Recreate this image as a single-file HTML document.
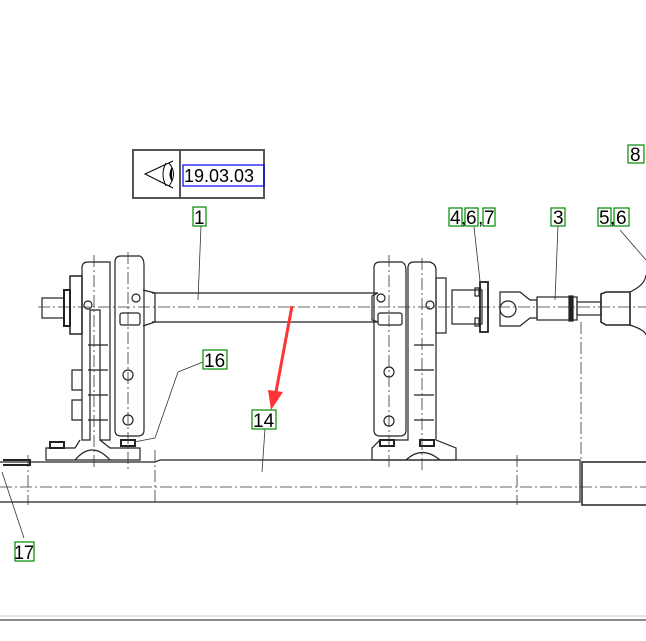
<!DOCTYPE html>
<html><head><meta charset="utf-8"><style>
html,body{margin:0;padding:0;background:#fff;width:646px;height:641px;overflow:hidden}
svg{display:block}
text{font-family:"Liberation Sans",sans-serif;fill:#000}
</style></head><body>
<svg width="646" height="641" viewBox="0 0 646 641" xmlns="http://www.w3.org/2000/svg">
<g fill="none" stroke="#444" stroke-width="1">
<rect x="133" y="150" width="131" height="48" stroke="#555" stroke-width="2"/>
<line x1="180" y1="150" x2="180" y2="198" stroke="#555" stroke-width="2"/>
<path d="M173 161 L145 174 L173 188" stroke="#000"/>
<path d="M166 163 Q160 174 166 186" stroke="#000"/>
<path d="M169 163 Q178 174 169 186" stroke="#000"/>
</g>
<path d="M172 167 Q167 174 172 182 Z" fill="#000"/>
<rect x="183" y="165" width="81" height="21" fill="none" stroke="#00f" stroke-width="1.2"/>
<text x="184" y="182" font-size="18">19.03.03</text>

<g fill="none" stroke="#222" stroke-width="1.2">
<line x1="152" y1="293" x2="378" y2="293"/>
<line x1="152" y1="322" x2="378" y2="322"/>
<path d="M143 290 L155 293 L155 322 L143 326"/>
<path d="M378 293 L372 296 L372 320 L378 322"/>
<rect x="42" y="298" width="22" height="20"/>
<rect x="64" y="290" width="6" height="36" stroke-width="2"/>
<rect x="70" y="276" width="12" height="58" stroke-width="1.5"/>
<path d="M82 268 Q82 262 88 262 L110 262 L110 440 L100 440 L100 310 L90 310 L90 440 L82 440 Z"/>
<path d="M115 262 Q115 256 121 256 L140 256 Q144 258 144 265 L144 430 Q144 436 138 436 L121 436 Q115 436 115 430 Z"/>
<rect x="120" y="313" width="20" height="12" rx="2"/>
<circle cx="128" cy="375" r="5"/><circle cx="128" cy="420" r="5"/>
<circle cx="88" cy="305" r="4"/><circle cx="136" cy="298" r="4"/>
<path d="M82 370 L72 370 L72 390 L82 390 M82 400 L72 400 L72 420 L82 420"/>
<path d="M80 440 L75 448 L46 448 L46 460 L140 460 L140 448 L110 448 L100 440"/>
<path d="M88 345 H108 M88 370 H108 M88 395 H108 M88 420 H108"/>
<path d="M75 460 Q92 440 110 460"/>
<rect x="50" y="442" width="14" height="6" stroke-width="2"/><rect x="121" y="440" width="14" height="6" stroke-width="2"/>
<path d="M374 268 Q374 262 380 262 L402 262 Q406 264 406 270 L406 430 Q406 436 400 436 L380 436 Q374 436 374 430 Z"/>
<rect x="378" y="313" width="24" height="12" rx="2"/>
<circle cx="389" cy="372" r="5"/><circle cx="389" cy="421" r="5"/>
<circle cx="381" cy="298" r="4"/><circle cx="430" cy="305" r="4"/>
<path d="M408 268 Q408 262 414 262 L430 262 Q436 264 436 270 L436 440 L456 448 L456 460 L372 460 L372 448 L380 440 L408 440 Z"/>
<path d="M414 345 H434 M414 370 H434 M414 395 H434 M414 420 H434"/>
<rect x="436" y="278" width="10" height="55"/>
<path d="M406 460 Q422 445 440 460"/>
<rect x="380" y="440" width="14" height="6" stroke-width="2"/><rect x="420" y="440" width="14" height="6" stroke-width="2"/>
<rect x="452" y="290" width="30" height="34"/>
<rect x="480" y="282" width="8" height="50" stroke-width="1.8"/>
<rect x="475" y="288" width="4" height="8"/><rect x="475" y="318" width="4" height="8"/>
<path d="M500 292 L520 292 L530 300 L537 300 L537 318 L530 318 L520 326 L500 326 Z"/>
<circle cx="508" cy="309" r="8"/>
<rect x="537" y="297" width="40" height="23"/>
<rect x="569" y="296" width="4" height="25" fill="#222"/>
<rect x="577" y="302" width="24" height="13"/>
<path d="M601 294 L606 292 L630 292 L630 325 L606 325 L601 322 Z" stroke-width="1.6"/>
<path d="M630 292 Q645 285 646 275 M630 325 Q645 330 646 335"/>
<path d="M0 462 L155 462 L160 460 L580 460 L580 502 L0 502"/>
<rect x="582" y="462" width="70" height="43" stroke-width="1.5"/>
<path d="M3 460 L30 460 L30 465 L3 465" stroke-width="2"/>
</g>
<g fill="none" stroke="#333" stroke-width="0.8" stroke-dasharray="12,3,2,3">
<line x1="38" y1="307" x2="646" y2="307"/>
<line x1="0" y1="487" x2="646" y2="487"/>
<line x1="94" y1="255" x2="94" y2="470"/>
<line x1="128" y1="252" x2="128" y2="470"/>
<line x1="389" y1="255" x2="389" y2="470"/>
<line x1="422" y1="258" x2="422" y2="472"/>
<line x1="581" y1="322" x2="581" y2="462"/>
<line x1="155" y1="450" x2="155" y2="505"/>
<line x1="517" y1="455" x2="517" y2="505"/>
<line x1="28" y1="455" x2="28" y2="505"/>
</g>
<g stroke="#333" stroke-width="0.8" fill="none">
<line x1="201" y1="226" x2="198" y2="300"/>
<line x1="203" y1="362" x2="178" y2="372"/><path d="M178 372 L155 438 L134 442"/>
<line x1="265" y1="429" x2="262" y2="472"/>
<line x1="2" y1="472" x2="24" y2="538"/>
<line x1="474" y1="227" x2="481" y2="290"/>
<line x1="558" y1="226" x2="555" y2="300"/>
<line x1="620" y1="230" x2="646" y2="260"/>
</g>
<line x1="292" y1="306" x2="276" y2="392" stroke="#f33" stroke-width="3"/>
<path d="M268 390 L283 392 L271 410 Z" fill="#f33"/>
<g font-size="19">
<rect x="193" y="207" width="13" height="19" fill="#fff" stroke="#080" stroke-width="1.2"/><text x="194" y="224">1</text>
<rect x="203" y="350" width="24" height="19" fill="#fff" stroke="#080" stroke-width="1.2"/><text x="204" y="367">16</text>
<rect x="252" y="410" width="24" height="19" fill="#fff" stroke="#080" stroke-width="1.2"/><text x="253" y="427">14</text>
<rect x="15" y="542" width="19" height="19" fill="#fff" stroke="#080" stroke-width="1.2"/><text x="14" y="559" textLength="20" lengthAdjust="spacingAndGlyphs">17</text>
<rect x="449" y="208" width="13" height="18" fill="#fff" stroke="#080" stroke-width="1.2"/><text x="450" y="224">4</text>
<text x="461" y="224">,</text>
<rect x="465" y="208" width="13" height="18" fill="#fff" stroke="#080" stroke-width="1.2"/><text x="466" y="224">6</text>
<text x="478" y="224">,</text>
<rect x="483" y="208" width="12" height="18" fill="#fff" stroke="#080" stroke-width="1.2"/><text x="484" y="224">7</text>
<rect x="551" y="208" width="14" height="18" fill="#fff" stroke="#080" stroke-width="1.2"/><text x="553" y="224">3</text>
<rect x="598" y="208" width="13" height="18" fill="#fff" stroke="#080" stroke-width="1.2"/><text x="599" y="224">5</text>
<text x="610" y="224">,</text>
<rect x="614" y="208" width="15" height="18" fill="#fff" stroke="#080" stroke-width="1.2"/><text x="616" y="224">6</text>
<rect x="628" y="145" width="16" height="18" fill="#fff" stroke="#080" stroke-width="1.2"/><text x="630" y="161">8</text>
</g>
<line x1="0" y1="616" x2="646" y2="616" stroke="#e4e4e4" stroke-width="2"/>
<line x1="0" y1="620" x2="646" y2="620" stroke="#666" stroke-width="1.5"/>
</svg>
</body></html>
